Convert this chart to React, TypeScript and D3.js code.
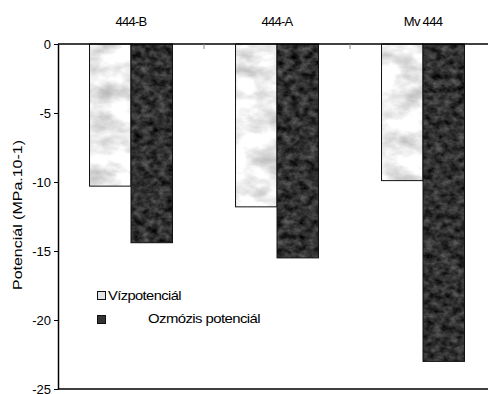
import React, { useEffect, useRef } from 'react';
import * as d3 from 'd3';

// categories and series
const categories = ['444-B', '444-A', 'Mv 444'];
const seriesNames = ['Vízpotenciál', 'Ozmózis potenciál'];
const vizpotencial = [-10.3, -11.8, -9.9];
const ozmozisPotencial = [-14.4, -15.5, -23.0];
const yTicks = [0, -5, -10, -15, -20, -25];

const W = 488;
const H = 394;
const FONT = '"Liberation Sans", Arial, sans-serif';

const App = () => {
  const ref = useRef<SVGSVGElement>(null);

  useEffect(() => {
    const svg = d3.select(ref.current);
    svg.selectAll('*').remove();

    // textures for the bars (marbled light / dark)
    const defs = svg.append('defs');
    const tex = (id: string, freq: string, oct: number, k: number, off: number, seed: number) => {
      const f = defs.append('filter').attr('id', id)
        .attr('x', 0).attr('y', 0).attr('width', 1).attr('height', 1)
        .attr('color-interpolation-filters', 'sRGB');
      f.append('feTurbulence').attr('type', 'fractalNoise')
        .attr('baseFrequency', freq).attr('numOctaves', oct)
        .attr('seed', seed).attr('result', 'n');
      f.append('feColorMatrix').attr('in', 'n').attr('type', 'matrix')
        .attr('values', `${k} 0 0 0 ${off}  ${k} 0 0 0 ${off}  ${k} 0 0 0 ${off}  0 0 0 0 1`)
        .attr('result', 'g');
      f.append('feComposite').attr('in', 'g').attr('in2', 'SourceGraphic').attr('operator', 'in');
    };
    tex('lightTex', '0.035 0.06', 4, 0.5, 0.68, 3);
    tex('darkTex', '0.12 0.15', 5, 0.5, -0.06, 7);

    // 1. scales
    const x = d3.scaleBand().domain(categories).range([58, 496]).padding(0);
    const xSub = d3.scaleBand().domain(seriesNames).range([0, x.bandwidth()])
      .paddingInner(0).paddingOuter(0.76);
    const y = d3.scaleLinear().domain([-25, 0]).range([389, 44]);

    const data = [vizpotencial, ozmozisPotencial];
    const filters = ['url(#lightTex)', 'url(#darkTex)'];
    const swatch = ['#e4e4e4', '#333'];

    // 2. bars
    data.forEach((vals, s) => {
      const g = svg.append('g');
      const xs = (d: string) => (x(d) as number) + (xSub(seriesNames[s]) as number);
      g.selectAll('rect.fill')
        .data(categories)
        .enter()
        .append('rect')
        .attr('class', 'fill')
        .attr('x', d => xs(d))
        .attr('y', y(0))
        .attr('width', xSub.bandwidth())
        .attr('height', (d, i) => y(vals[i]) - y(0))
        .attr('fill', '#000')
        .attr('filter', filters[s]);
      g.selectAll('rect.edge')
        .data(categories)
        .enter()
        .append('rect')
        .attr('class', 'edge')
        .attr('x', d => xs(d))
        .attr('y', y(0))
        .attr('width', xSub.bandwidth())
        .attr('height', (d, i) => y(vals[i]) - y(0))
        .attr('fill', 'none')
        .attr('stroke', '#111')
        .attr('stroke-width', 1);
    });

    // 3. axes
    const yAxis = d3.axisLeft(y).tickValues(yTicks).tickSize(4).tickSizeOuter(0)
      .tickFormat(d => String(d));
    const ga = svg.append('g').attr('transform', 'translate(58,0)').call(yAxis);
    ga.select('.domain').attr('stroke', '#000').attr('stroke-width', 1.5);
    ga.selectAll('.tick line').attr('stroke', '#000');
    ga.selectAll('.tick text')
      .attr('font-family', FONT).attr('font-size', 13).attr('fill', '#000')
      .attr('x', -7).attr('dy', '0.36em');

    // top (zero) line and bottom line
    svg.append('line').attr('x1', 58).attr('x2', W).attr('y1', y(0)).attr('y2', y(0))
      .attr('stroke', '#000').attr('stroke-width', 1.5);
    svg.append('line').attr('x1', 58).attr('x2', W).attr('y1', y(-25)).attr('y2', y(-25))
      .attr('stroke', '#000').attr('stroke-width', 1.5);

    // category separators on the top line
    svg.selectAll('line.sep')
      .data(categories.slice(1))
      .enter()
      .append('line')
      .attr('class', 'sep')
      .attr('x1', d => x(d) as number).attr('x2', d => x(d) as number)
      .attr('y1', y(0)).attr('y2', y(0) + 5)
      .attr('stroke', '#888').attr('stroke-width', 1);

    // category labels above
    svg.selectAll('text.cat')
      .data(categories)
      .enter()
      .append('text')
      .attr('class', 'cat')
      .text(d => d)
      .attr('x', d => (x(d) as number) + x.bandwidth() / 2)
      .attr('y', 26)
      .attr('text-anchor', 'middle')
      .attr('font-family', FONT).attr('font-size', 13)
      .attr('letter-spacing', -0.7);

    // y title
    svg.append('text')
      .text('Potenciál (MPa.10-1)')
      .attr('transform', 'translate(22,215) rotate(-90)')
      .attr('text-anchor', 'middle')
      .attr('font-family', FONT).attr('font-size', 13)
      .attr('textLength', 150).attr('lengthAdjust', 'spacingAndGlyphs');

    // legend
    const leg = [
      { sy: 291, tx: 108, ty: 300, tl: 73 },
      { sy: 315, tx: 148, ty: 323, tl: 112 },
    ];
    leg.forEach((l, i) => {
      svg.append('rect').attr('x', 97.5).attr('y', l.sy + 0.5).attr('width', 8).attr('height', 8)
        .attr('fill', swatch[i]).attr('stroke', '#111').attr('stroke-width', 1);
      svg.append('text').text(seriesNames[i])
        .attr('x', l.tx).attr('y', l.ty)
        .attr('font-family', FONT).attr('font-size', 13)
        .attr('letter-spacing', -0.5)
        .attr('textLength', l.tl).attr('lengthAdjust', 'spacingAndGlyphs');
    });
  }, []);

  return (
    <svg ref={ref} width={W} height={H}
      style={{ position: 'absolute', left: 0, top: 0, background: '#fff' }} />
  );
};

export default App;
